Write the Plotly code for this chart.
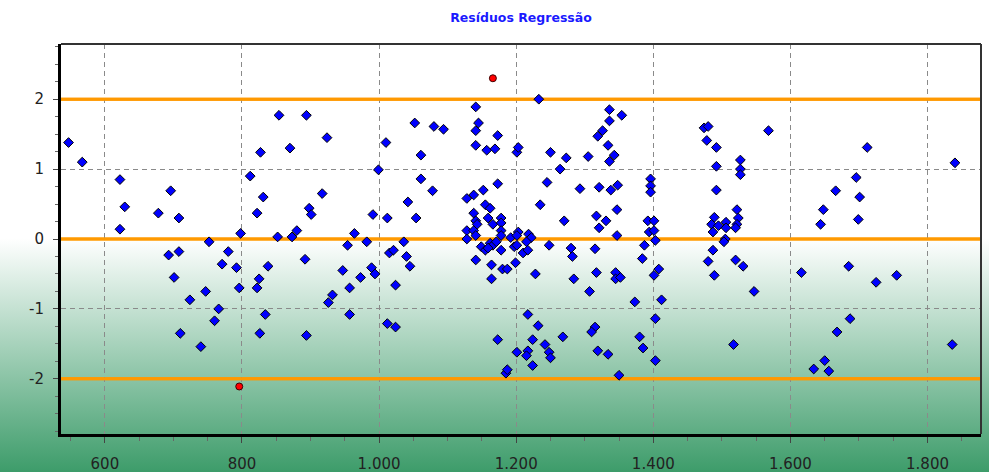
import base64
import plotly.graph_objects as go

# ---------------- data ----------------
title_text = "Resíduos Regressão"

blue_x = [
    547, 567, 622, 629, 622, 696, 678, 708, 752, 693, 708, 701, 747, 724, 760, 710, 740,
    854, 894, 924, 827, 870, 812, 831, 822, 917, 898, 901, 798, 852, 873, 880, 964, 954, 982,
    780, 771, 792, 838, 892, 825, 796, 822, 947, 973, 932, 926, 957, 957, 766, 834, 826, 894,
    991, 1012, 1010, 999, 1052, 1080, 1094, 1061, 1061, 1078, 1042, 1054, 1036, 1015, 1021,
    1040, 1045, 989, 994, 1024, 1012, 1024,
    1141, 1145, 1141, 1141, 1157, 1169, 1173, 1201, 1203, 1173, 1152, 1138, 1128, 1155, 1162,
    1138, 1159, 1178, 1141, 1143, 1166, 1178, 1128, 1138, 1178, 1141, 1128, 1178, 1192, 1203,
    1201, 1149, 1155, 1162, 1166, 1171, 1159, 1178, 1197, 1201, 1210, 1141, 1164, 1180, 1187,
    1199, 1164, 1173, 1201, 1185, 1187,
    1233, 1250, 1273, 1264, 1305, 1336, 1354, 1336, 1326, 1319, 1334, 1343, 1336, 1245, 1293,
    1321, 1338, 1348, 1235, 1317, 1331, 1321, 1347, 1270, 1347, 1218, 1222, 1215, 1217, 1248,
    1280, 1282, 1315, 1228, 1284, 1317, 1345, 1345, 1352, 1307, 1217, 1232, 1224, 1242, 1248,
    1250, 1217, 1215, 1224, 1268, 1315, 1310, 1319, 1334, 1350, 1373, 1380, 1385, 1396, 1396,
    1396, 1392, 1401, 1394, 1401, 1403, 1387, 1384, 1408, 1401, 1412, 1403, 1403,
    1474, 1480, 1478, 1492, 1492, 1492, 1527, 1527, 1527, 1568, 1489, 1485, 1495, 1506, 1506,
    1487, 1522, 1524, 1522, 1520, 1505, 1503, 1487, 1480, 1489, 1520, 1531, 1547, 1517, 1616,
    1648, 1644, 1634, 1650, 1656,
    1712, 1840, 1696, 1666, 1701, 1699, 1685, 1725, 1755, 1687, 1668, 1836,
]
blue_y = [
    1.38, 1.10, 0.85, 0.46, 0.14, 0.69, 0.37, 0.30, -0.04, -0.23, -0.18, -0.55, -0.75, -0.87, -1.17, -1.35, -1.54,
    1.77, 1.77, 1.45, 1.24, 1.30, 0.90, 0.60, 0.37, 0.65, 0.44, 0.35, 0.08, 0.03, 0.03, 0.12, 0.08, -0.09, -0.04,
    -0.18, -0.36, -0.41, -0.39, -0.29, -0.57, -0.70, -0.70, -0.45, -0.55, -0.80, -0.91, -0.70, -1.08, -1.00, -1.08, -1.35, -1.38,
    0.35, 0.30, 1.38, 0.99, 1.66, 1.61, 1.57, 1.20, 0.86, 0.69, 0.53, 0.30, -0.04, -0.20, -0.16,
    -0.25, -0.39, -0.41, -0.50, -0.66, -1.21, -1.26,
    1.89, 1.66, 1.55, 1.34, 1.27, 1.29, 1.48, 1.24, 1.31, 0.79, 0.70, 0.63, 0.58, 0.49, 0.44,
    0.37, 0.30, 0.30, 0.26, 0.21, 0.21, 0.23, 0.12, 0.12, 0.12, 0.05, 0.00, 0.05, 0.02, 0.10,
    0.05, -0.11, -0.16, -0.06, -0.09, -0.04, -0.13, -0.16, -0.11, -0.09, -0.20, -0.30, -0.37, -0.43, -0.43,
    -0.34, -0.57, -1.44, -1.62, -1.92, -1.87,
    2.00, 1.24, 1.16, 1.00, 1.18, 1.85, 1.77, 1.69, 1.55, 1.47, 1.34, 1.20, 1.11, 0.81, 0.72,
    0.74, 0.70, 0.77, 0.49, 0.33, 0.26, 0.16, 0.42, 0.26, 0.05, 0.07, 0.02, -0.04, -0.16, -0.09,
    -0.13, -0.25, -0.14, -0.50, -0.57, -0.48, -0.48, -0.57, -0.55, -0.75, -1.08, -1.24, -1.44, -1.51, -1.62,
    -1.70, -1.60, -1.67, -1.81, -1.40, -1.26, -1.33, -1.60, -1.65, -1.95, -0.90, -1.40, -1.56, 0.86, 0.76,
    0.67, 0.26, 0.26, 0.10, 0.12, -0.02, -0.09, -0.28, -0.43, -0.52, -0.87, -1.14, -1.74,
    1.59, 1.61, 1.41, 1.31, 1.04, 0.70, 1.13, 1.00, 0.92, 1.55, 0.31, 0.21, 0.19, 0.24, 0.16,
    0.10, 0.42, 0.30, 0.21, 0.16, 0.00, -0.04, -0.16, -0.32, -0.52, -0.30, -0.39, -0.75, -1.51, -0.48,
    0.42, 0.21, -1.86, -1.74, -1.89,
    1.31, 1.09, 0.88, 0.69, 0.60, 0.28, -0.39, -0.62, -0.52, -1.14, -1.33, -1.51,
]

red_x = [796, 1166]
red_y = [-2.11, 2.30]

limit_lines = [2, 0, -2]

x_range = [536, 1878]
y_range = [-2.79, 2.79]
x_tick_vals = [600, 800, 1000, 1200, 1400, 1600, 1800]
x_tick_text = ["600", "800", "1.000", "1.200", "1.400", "1.600", "1.800"]
y_tick_vals = [-2, -1, 0, 1, 2]
y_tick_text = ["-2", "-1", "0", "1", "2"]

# ---------------- layout geometry ----------------
W, H = 989, 472
ML, MR, MT, MB = 61, 8, 44, 38
PW, PH = W - ML - MR, H - MT - MB

svg = (
    f"<svg xmlns='http://www.w3.org/2000/svg' width='{W}' height='{H}' viewBox='0 0 {W} {H}' "
    "preserveAspectRatio='none'><defs><linearGradient id='g' x1='0' y1='0' x2='0' y2='1'>"
    "<stop offset='0' stop-color='#ffffff'/><stop offset='0.505' stop-color='#ffffff'/>"
    "<stop offset='1' stop-color='#3d9c6a'/></linearGradient></defs>"
    f"<rect x='0' y='0' width='{W}' height='{H}' fill='url(#g)'/></svg>"
)
bg_src = "data:image/svg+xml;base64," + base64.b64encode(svg.encode()).decode()

fig = go.Figure()

# orange limit lines: shapes between grid and traces, plus traces on top of the grid
for yv in limit_lines:
    fig.add_shape(type="line", xref="paper", x0=0, x1=1, yref="y", y0=yv, y1=yv,
                  line=dict(color="#ff9900", width=3), layer="between")
    fig.add_trace(go.Scatter(
        x=x_range, y=[yv, yv], mode="lines",
        line=dict(color="#ff9900", width=3),
        showlegend=False, hoverinfo="skip",
    ))

fig.add_trace(go.Scatter(
    x=blue_x, y=blue_y, mode="markers",
    marker=dict(symbol="diamond", size=7.5, color="#0000ff", line=dict(color="#000000", width=1)),
    showlegend=False, hoverinfo="x+y",
))
fig.add_trace(go.Scatter(
    x=red_x, y=red_y, mode="markers",
    marker=dict(symbol="circle", size=7, color="#ff0000", line=dict(color="#400000", width=1)),
    showlegend=False, hoverinfo="x+y",
))

# top and right frame
fig.add_shape(type="line", xref="paper", yref="paper", x0=0, x1=1, y0=1, y1=1,
              line=dict(color="#333333", width=2), layer="above")
fig.add_shape(type="line", xref="paper", yref="paper", x0=1, x1=1, y0=0, y1=1,
              line=dict(color="#333333", width=2), layer="above")

fig.add_layout_image(dict(
    source=bg_src, xref="paper", yref="paper",
    x=-ML / PW, y=1 + MT / PH, sizex=W / PW, sizey=H / PH,
    xanchor="left", yanchor="top", sizing="stretch", layer="below",
))

tick_font = dict(family="DejaVu Sans", size=15, color="#222222")

fig.update_layout(
    width=W, height=H,
    margin=dict(l=ML, r=MR, t=MT, b=MB, pad=0, autoexpand=False),
    paper_bgcolor="#ffffff",
    plot_bgcolor="rgba(0,0,0,0)",
    modebar=dict(bgcolor="rgba(0,0,0,0)", color="rgba(0,0,0,0)", activecolor="rgba(0,0,0,0)"),
    title=dict(text=title_text, x=(ML + PW / 2) / W, xanchor="center", y=1 - 18 / H, yanchor="middle",
               xref="container", yref="container",
               font=dict(family="DejaVu Sans", size=12.5, color="#1a1aff", weight="bold")),
    xaxis=dict(
        range=x_range, tickmode="array", tickvals=x_tick_vals, ticktext=x_tick_text,
        showgrid=True, gridcolor="#8a8a8a", gridwidth=1, griddash="5px,4px",
        zeroline=False, showline=True, linecolor="#000000", linewidth=3, mirror=False,
        ticks="outside", ticklen=6, tickcolor="#444444", tickwidth=1,
        ticklabelstandoff=8, tickfont=tick_font,
        minor=dict(tickmode="linear", tick0=0, dtick=50, ticks="outside", ticklen=4,
                   tickcolor="#666666", showgrid=False),
    ),
    yaxis=dict(
        range=y_range, tickmode="array", tickvals=y_tick_vals, ticktext=y_tick_text,
        showgrid=True, gridcolor="#8a8a8a", gridwidth=1, griddash="5px,4px",
        zeroline=False, showline=True, linecolor="#000000", linewidth=3, mirror=False,
        ticks="outside", ticklen=5, tickcolor="#444444", tickwidth=1,
        ticklabelstandoff=6, tickfont=tick_font,
        minor=dict(tickmode="linear", tick0=0, dtick=0.25, ticks="outside", ticklen=3,
                   tickcolor="#666666", showgrid=False),
    ),
)

fig.write_html(
    "out.html",
    post_script=(
        "document.body.style.margin='0';document.body.style.overflow='hidden';"
        "var s=document.createElement('style');"
        "s.innerHTML='.modebar-container{display:none !important;}';"
        "document.head.appendChild(s);"
    ),
)
